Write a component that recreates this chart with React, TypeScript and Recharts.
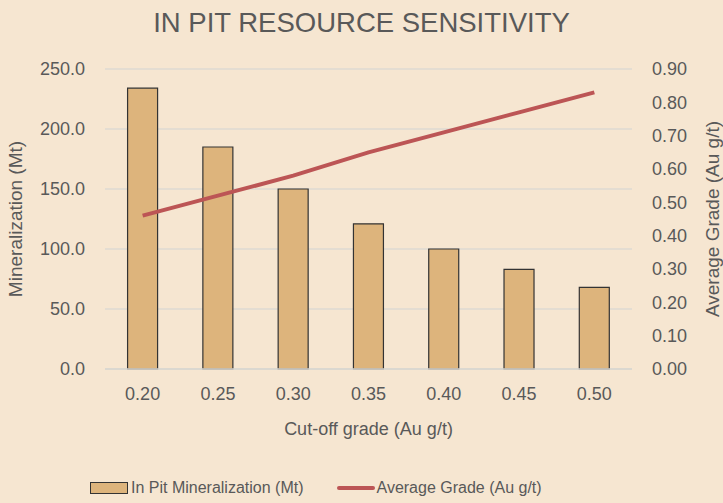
import {
  ComposedChart,
  Bar,
  Line,
  XAxis,
  YAxis,
  CartesianGrid,
  Legend,
} from "recharts";

const cutoffs = ["0.20", "0.25", "0.30", "0.35", "0.40", "0.45", "0.50"];
const mineralization = [234, 185, 150, 121, 100, 83, 68];
const avgGrade = [0.46, 0.52, 0.58, 0.65, 0.71, 0.77, 0.83];

const leftTicks = [0, 50, 100, 150, 200, 250];
const rightTicks = [0, 0.1, 0.2, 0.3, 0.4, 0.5, 0.6, 0.7, 0.8, 0.9];

const data = cutoffs.map((c, i) => ({
  cutoff: c,
  mineralization: mineralization[i],
  grade: avgGrade[i],
}));

const BG = "#F6E6D1";
const TEXT = "#595959";
const BAR = "#DDB47C";
const LINE = "#BC5555";
const FONT = "'Liberation Sans', Arial, sans-serif";

const tickStyle = { fontFamily: FONT, fontSize: 18, fill: TEXT };

function ChartLegend() {
  return (
    <div
      style={{
        display: "flex",
        alignItems: "center",
        height: 30,
        paddingLeft: 90,
        fontFamily: FONT,
        fontSize: 16,
        color: TEXT,
      }}
    >
      <span
        style={{
          display: "inline-block",
          width: 36,
          height: 10,
          background: BAR,
          border: "1px solid #333",
          marginRight: 3,
        }}
      />
      <span>In Pit Mineralization (Mt)</span>
      <span
        style={{
          display: "inline-block",
          width: 38,
          height: 4,
          borderRadius: 2,
          background: LINE,
          marginLeft: 33,
          marginRight: 2,
        }}
      />
      <span>Average Grade (Au g/t)</span>
    </div>
  );
}

export default function App() {
  return (
    <div
      style={{
        position: "fixed",
        top: 0,
        left: 0,
        width: 723,
        height: 503,
        background: BG,
      }}
    >
      <div
        style={{
          position: "absolute",
          top: 7,
          left: 0,
          width: 723,
          textAlign: "center",
          fontFamily: FONT,
          fontSize: 27.5,
          color: TEXT,
          zIndex: 1,
        }}
      >
        IN PIT RESOURCE SENSITIVITY
      </div>
      <ComposedChart
        width={723}
        height={503}
        data={data}
        margin={{ top: 69, right: 0, left: 0, bottom: 34 }}
        barCategoryGap="30%"
      >
        <CartesianGrid yAxisId="left" vertical={false} stroke="#DEDAD2" strokeWidth={1.5} />
        <XAxis
          dataKey="cutoff"
          axisLine={{ stroke: "#D9D6CF", strokeWidth: 1.5 }}
          tickLine={false}
          tickSize={0}
          tickMargin={18}
          height={70}
          tick={tickStyle}
          label={{
            value: "Cut-off grade (Au g/t)",
            position: "insideBottom",
            offset: 4,
            style: { fontFamily: FONT, fontSize: 18, fill: TEXT },
          }}
        />
        <YAxis
          yAxisId="left"
          width={105}
          domain={[0, 250]}
          ticks={leftTicks}
          tickFormatter={(v: number) => v.toFixed(1)}
          axisLine={false}
          tickLine={false}
          tickSize={0}
          tickMargin={20}
          tick={tickStyle}
          label={{
            value: "Mineralization (Mt)",
            angle: -90,
            position: "insideLeft",
            offset: 15,
            style: { fontFamily: FONT, fontSize: 19, fill: TEXT, textAnchor: "middle" },
          }}
        />
        <YAxis
          yAxisId="right"
          orientation="right"
          width={91}
          domain={[0, 0.9]}
          ticks={rightTicks}
          tickFormatter={(v: number) => v.toFixed(2)}
          axisLine={false}
          tickLine={false}
          tickSize={0}
          tickMargin={20}
          tick={tickStyle}
          label={{
            value: "Average Grade (Au g/t)",
            angle: -90,
            position: "insideRight",
            offset: 11,
            style: { fontFamily: FONT, fontSize: 19, fill: TEXT, textAnchor: "middle" },
          }}
        />
        <Legend
          verticalAlign="bottom"
          content={<ChartLegend />}
          wrapperStyle={{ top: 473, left: 0, width: 723, height: 30 }}
        />
        <Bar
          yAxisId="left"
          dataKey="mineralization"
          name="In Pit Mineralization (Mt)"
          fill={BAR}
          stroke="#333"
          strokeWidth={1.2}
          isAnimationActive={false}
        />
        <Line
          yAxisId="right"
          dataKey="grade"
          name="Average Grade (Au g/t)"
          type="linear"
          stroke={LINE}
          strokeWidth={4}
          dot={false}
          activeDot={false}
          isAnimationActive={false}
        />
      </ComposedChart>
    </div>
  );
}
